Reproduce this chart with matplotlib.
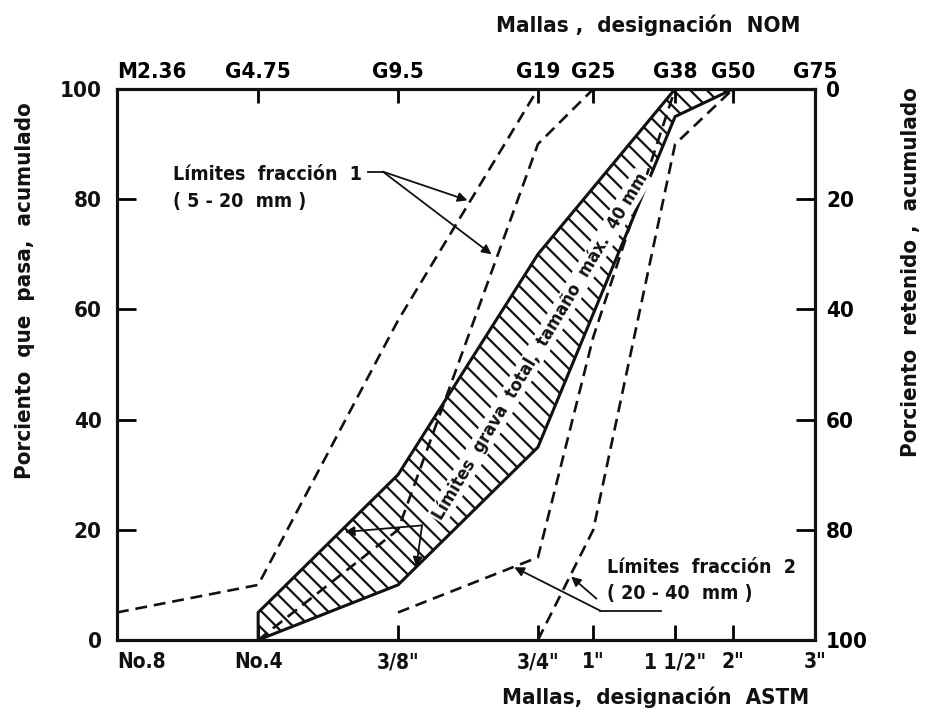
import numpy as np
import matplotlib as mpl
import matplotlib.pyplot as plt
from matplotlib.ticker import NullLocator, FixedLocator, FixedFormatter

mpl.rcParams.update({
    "font.family": ["DejaVu Sans"],
    "font.stretch": "condensed",
    "font.weight": "bold",
    "hatch.linewidth": 1.6,
    "axes.linewidth": 2.0,
})

INK = "#111111"

# sieve openings (mm), same sieve in both designations
sieve_mm = [2.36, 4.75, 9.5, 19, 25, 37.5, 50, 75]
astm_labels = ["No.8", "No.4", '3/8"', '3/4"', '1"', '1 1/2"', '2"', '3"']
nom_labels = ["M2.36", "G4.75", "G9.5", "G19", "G25", "G38", "G50", "G75"]
pct_ticks = [0, 20, 40, 60, 80, 100]

# fraccion 1 (5-20 mm)
f1_sup_mm = [2.36, 4.75, 9.5, 19]
f1_sup_pct = [5, 10, 58, 100]
f1_inf_mm = [4.75, 9.5, 19, 25]
f1_inf_pct = [0, 20, 90, 100]
# fraccion 2 (20-40 mm)
f2_sup_mm = [9.5, 19, 25, 37.5]
f2_sup_pct = [5, 15, 55, 100]
f2_inf_mm = [19, 25, 37.5, 50]
f2_inf_pct = [0, 20, 90, 100]
# grava total, tamano max. 40 mm (hatched band)
gt_sup_mm = [4.75, 9.5, 19, 37.5]
gt_sup_pct = [5, 30, 70, 100]
gt_inf_mm = [4.75, 9.5, 19, 37.5, 50]
gt_inf_pct = [0, 10, 35, 95, 100]

fig = plt.figure(figsize=(9.28, 7.15), dpi=100)
ax = fig.add_axes([117 / 928, 1 - 640 / 715, 698 / 928, 551 / 715])

DASH = (0, (4.5, 2.6))
ax.plot(f1_sup_mm, f1_sup_pct, color=INK, lw=1.9, ls=DASH)
ax.plot(f1_inf_mm, f1_inf_pct, color=INK, lw=1.9, ls=DASH)
ax.plot(f2_sup_mm, f2_sup_pct, color=INK, lw=1.9, ls=DASH)
ax.plot(f2_inf_mm, f2_inf_pct, color=INK, lw=1.9, ls=DASH)

band_x = gt_sup_mm + gt_inf_mm[::-1]
band_y = gt_sup_pct + gt_inf_pct[::-1]
ax.fill(band_x, band_y, facecolor="none", edgecolor=INK, hatch="\\\\", lw=2.2, zorder=3)

ax.set_xscale("log")
ax.set_xlim(sieve_mm[0], sieve_mm[-1])
ax.set_ylim(0, 100)
ax.xaxis.set_major_locator(FixedLocator(sieve_mm))
ax.xaxis.set_major_formatter(FixedFormatter(astm_labels))
ax.xaxis.set_minor_locator(NullLocator())
ax.set_yticks(pct_ticks)
ax.tick_params(axis="x", direction="in", length=11, width=2, labelsize=15,
               pad=9, labelcolor=INK)
ax.tick_params(axis="y", direction="in", length=14, width=2, labelsize=16,
               pad=11, labelcolor=INK)
ax.get_xticklabels()[0].set_ha("left")

top = ax.twiny()
top.set_xscale("log")
top.set_xlim(ax.get_xlim())
top.xaxis.set_major_locator(FixedLocator(sieve_mm))
top.xaxis.set_major_formatter(FixedFormatter(nom_labels))
top.xaxis.set_minor_locator(NullLocator())
top.tick_params(axis="x", direction="in", length=10, width=2, labelsize=16, pad=5)
top.get_xticklabels()[0].set_ha("left")

right = ax.twinx()
right.set_ylim(100, 0)
right.set_yticks(pct_ticks)
right.tick_params(axis="y", direction="in", length=14, width=2, labelsize=16, pad=8)

for a in (ax, top, right):
    for s in a.spines.values():
        s.set_linewidth(2.2)
        s.set_color(INK)

# annotations
ax.text(3.11, 84.5, u"L\u00edmites  fracci\u00f3n  1", fontsize=14, fontweight="bold",
        va="center", ha="left", color=INK)
ax.text(3.11, 79.6, "( 5 - 20  mm )", fontsize=14, fontweight="bold",
        va="center", ha="left", color=INK)
ax.plot([8.2, 8.81], [85.0, 85.0], color=INK, lw=1.3)
arr = dict(arrowstyle="-|>", color=INK, lw=1.3, mutation_scale=14, shrinkA=0, shrinkB=0)
ax.annotate("", xy=(13.4, 79.8), xytext=(8.81, 85.0), arrowprops=arr)
ax.annotate("", xy=(15.1, 70.0), xytext=(8.81, 85.0), arrowprops=arr)

ax.text(26.7, 13.1, u"L\u00edmites  fracci\u00f3n  2", fontsize=14, fontweight="bold",
        va="center", ha="left", color=INK)
ax.text(26.7, 8.4, "( 20 - 40  mm )", fontsize=14, fontweight="bold",
        va="center", ha="left", color=INK)
ax.plot([25.9, 34.9], [5.3, 5.3], color=INK, lw=1.3)
ax.annotate("", xy=(16.9, 13.2), xytext=(25.9, 5.3), arrowprops=arr)
ax.annotate("", xy=(22.4, 11.5), xytext=(25.4, 7.5), arrowprops=arr)

ax.text(19.2, 53.3, u"L\u00edmites  grava  total,  tama\u00f1o  m\u00e1x.  40 mm",
        rotation=59, rotation_mode="anchor", ha="center", va="center",
        fontsize=13, fontweight="bold", color=INK, zorder=5,
        bbox=dict(fc="white", ec="none", pad=1.0))
ax.annotate("", xy=(7.3, 19.6), xytext=(10.7, 20.8), arrowprops=arr, zorder=6)
ax.annotate("", xy=(10.4, 13.3), xytext=(10.7, 20.8), arrowprops=arr, zorder=6)

# axis titles
fig.text(648 / 928, 1 - 25 / 715, u"Mallas ,  designaci\u00f3n  NOM", fontsize=16,
         fontweight="bold", ha="center", va="center", color=INK)
fig.text(656 / 928, 1 - 697 / 715, u"Mallas,  designaci\u00f3n  ASTM", fontsize=16,
         fontweight="bold", ha="center", va="center", color=INK)
fig.text(25 / 928, 1 - 291 / 715, "Porciento  que  pasa,  acumulado", fontsize=16,
         fontweight="bold", rotation=90, ha="center", va="center", color=INK)
fig.text(911 / 928, 1 - 272 / 715, "Porciento  retenido ,  acumulado", fontsize=16,
         fontweight="bold", rotation=90, ha="center", va="center", color=INK)

fig.savefig("out.png", dpi=100)
